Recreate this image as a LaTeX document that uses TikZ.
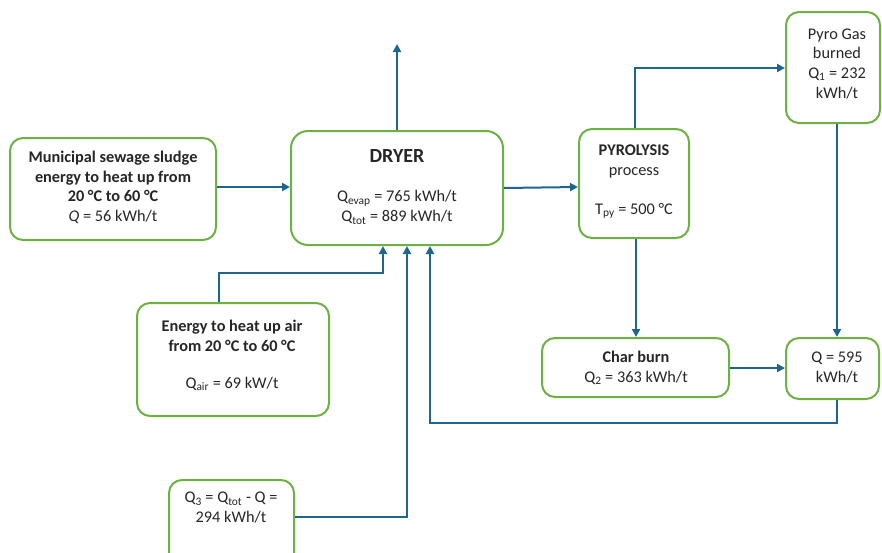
\documentclass[tikz,border=0pt]{standalone}
\usepackage{fontspec}
\setmainfont{Carlito}
\usetikzlibrary{arrows.meta}
\definecolor{boxgreen}{RGB}{108,178,67}
\definecolor{flowblue}{RGB}{29,103,143}
\tikzset{
  box/.style={draw=boxgreen, line width=2pt, rounded corners=13pt, fill=white, inner sep=0pt},
  txt/.style={align=center, font=\fontsize{16.3}{19.6}\selectfont, text=black!85, inner sep=0pt},
  flow/.style={draw=flowblue, line width=2pt, -{Triangle[length=8pt,width=8pt]}},
}
\begin{document}
\begin{tikzpicture}[x=1pt,y=-1pt]
\useasboundingbox (0,0) rectangle (882,552);
% boxes
\node[box, minimum width=206pt, minimum height=102pt] (mss) at (113,189) {};
\node[box, minimum width=212pt, minimum height=114pt, rounded corners=17pt] (dryer) at (397,188) {};
\node[box, minimum width=110pt, minimum height=109pt] (pyro) at (634,183.5) {};
\node[box, minimum width=94pt, minimum height=111pt] (gas) at (833,67.5) {};
\node[box, minimum width=192pt, minimum height=113pt] (air) at (233,359.5) {};
\node[box, minimum width=187pt, minimum height=59pt] (char) at (635.5,367.5) {};
\node[box, minimum width=93pt, minimum height=61pt] (qsum) at (832.5,368.5) {};
\node[box, minimum width=125pt, minimum height=90pt] (q3) at (231.5,525) {};
% texts
\node[txt] (tmss) at (113,187.5) {\textbf{Municipal sewage sludge}\\ \textbf{energy to heat up from}\\ \textbf{20 °C to 60 °C}\\ \textit{Q} = 56 kWh/t};
\node[txt, anchor=base] (tdryer) at (397,162) {\fontsize{20}{24}\selectfont\textbf{DRYER}};
\node[txt, anchor=base] (tdryer2) at (397,221.5) {Q\textsubscript{evap} = 765 kWh/t\\ Q\textsubscript{tot} = 889 kWh/t};
\node[txt, anchor=base] (tpyro) at (634,175) {\textbf{PYROLYSIS}\\ process};
\node[txt, anchor=base] (tpyro2) at (634,214) {T\textsubscript{py} = 500 °C};
\node[txt, anchor=base] (tgas) at (837,98) {Pyro Gas\\ burned\\ Q\textsubscript{1} = 232\\ kWh/t};
\node[txt, anchor=base] (tair) at (232,351) {\textbf{Energy to heat up air}\\ \textbf{from 20 °C to 60 °C}};
\node[txt, anchor=base] (tair2) at (232,388) {Q\textsubscript{air} = 69 kW/t};
\node[txt, anchor=base] (tchar) at (636,382) {\textbf{Char burn}\\ Q\textsubscript{2} = 363 kWh/t};
\node[txt, anchor=base] (tqsum) at (837,382) {Q = 595\\ kWh/t};
\node[txt, anchor=base] (tq3) at (231,522) {Q\textsubscript{3} = Q\textsubscript{tot} - Q =\\ 294 kWh/t};
% free end
\coordinate (vent) at (397,44);
% connectors
\draw[flow] (mss.east |- 0,187) -- (dryer.west |- 0,187);
\draw[flow] (dryer.north) -- (vent);
\draw[flow] (dryer.east |- 0,188) -- (pyro.west |- 0,187);
\draw[flow] (pyro.north -| 635,0) |- (gas.west |- 0,68);
\draw[flow] (pyro.south -| 636,0) -- (char.north -| 636,0);
\draw[flow] (gas.south -| 837,0) -- (qsum.north -| 837,0);
\draw[flow] (char.east |- 0,368) -- (qsum.west |- 0,368);
\draw[flow] (qsum.south -| 837,0) |- (430,423) -- (dryer.south -| 430,0);
\draw[flow] (air.north -| 219,0) |- (383,273) -- (dryer.south -| 383,0);
\draw[flow] (q3.east |- 0,517) -| (dryer.south -| 407,0);
\end{tikzpicture}
\end{document}
